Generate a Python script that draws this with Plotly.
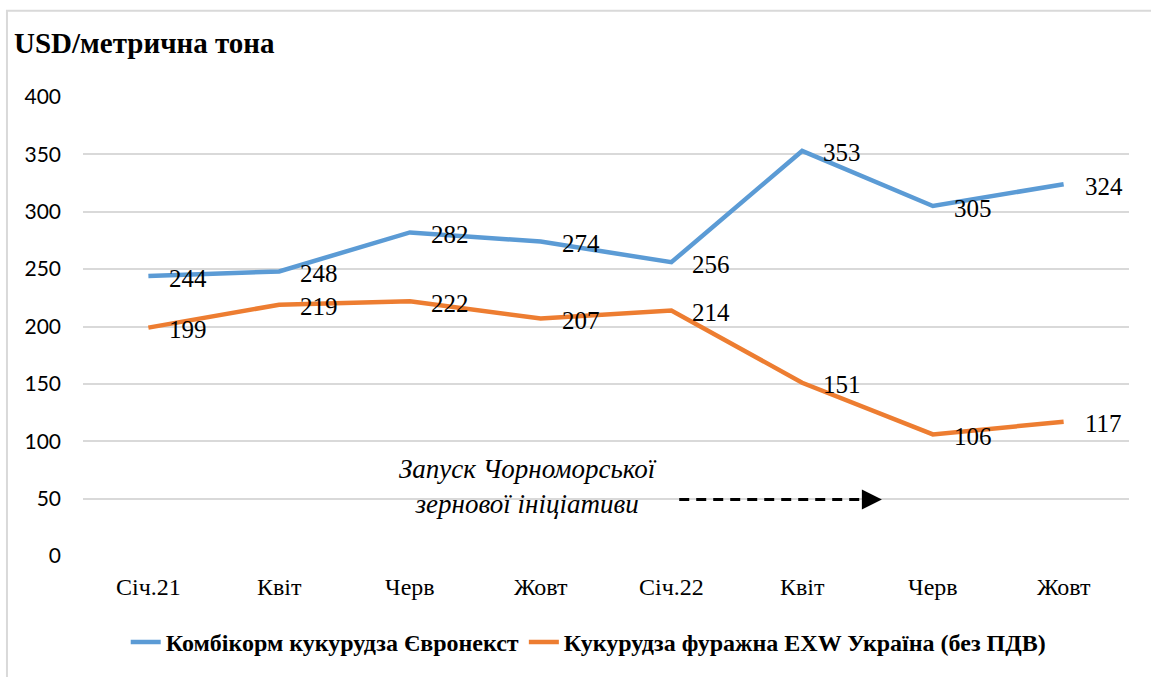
import plotly.graph_objects as go

categories = ["Січ.21", "Квіт", "Черв", "Жовт", "Січ.22", "Квіт", "Черв", "Жовт"]
euronext = [244, 248, 282, 274, 256, 353, 305, 324]
ukraine = [199, 219, 222, 207, 214, 151, 106, 117]
series_names = ["Комбікорм кукурудза Євронекст", "Кукурудза фуражна EXW Україна (без ПДВ)"]
y_ticks = [0, 50, 100, 150, 200, 250, 300, 350, 400]

BLUE = "#5B9BD5"
ORANGE = "#ED7D31"
SERIF = "Liberation Serif"

xs = list(range(len(categories)))

fig = go.Figure()
fig.add_trace(go.Scatter(x=xs, y=euronext, mode="lines", name="<b>" + series_names[0] + "</b>",
                         line=dict(color=BLUE, width=4.5)))
fig.add_trace(go.Scatter(x=xs, y=ukraine, mode="lines", name="<b>" + series_names[1] + "</b>",
                         line=dict(color=ORANGE, width=4.5)))

annotations = []
for vals in (euronext, ukraine):
    for i, v in enumerate(vals):
        annotations.append(dict(x=i, y=v, xref="x", yref="y", text=str(v), showarrow=False,
                                xanchor="left", yanchor="middle", xshift=19, yshift=-2,
                                font=dict(family=SERIF, size=25, color="black")))

annotations.append(dict(x=-0.068, y=1.117, xref="paper", yref="paper", text="<b>USD/метрична тона</b>",
                        showarrow=False, xanchor="left", yanchor="middle",
                        font=dict(family=SERIF, size=29, color="black")))
annotations.append(dict(x=2.9, y=60.5, xref="x", yref="y",
                        text="<i>Запуск Чорноморської<br>зернової ініціативи</i>",
                        showarrow=False, xanchor="center", yanchor="middle", align="center",
                        font=dict(family=SERIF, size=27, color="black")))
annotations.append(dict(x=5.61, y=49.2, xref="x", yref="y", ax=-18, ay=0, text="",
                        showarrow=True, arrowhead=2, arrowsize=1.6, arrowwidth=2.5, arrowcolor="black"))

shapes = [
    dict(type="line", xref="x", yref="y", x0=4.06, x1=5.5, y0=49.2, y1=49.2,
         line=dict(color="black", width=3, dash="10px,7px")),
    dict(type="rect", xref="paper", yref="paper", x0=-0.0727, x1=1.1, y0=1.188, y1=-0.35,
         line=dict(color="#D9D9D9", width=2), layer="below"),
]

fig.update_layout(
    width=1151, height=677,
    margin=dict(l=83, r=22, t=97, b=117),
    paper_bgcolor="white", plot_bgcolor="white",
    showlegend=True,
    legend=dict(orientation="h", x=0.483, xanchor="center", y=-0.188, yanchor="middle",
                font=dict(family=SERIF, size=24, color="black"),
                traceorder="normal"),
    annotations=annotations,
    shapes=shapes,
    xaxis=dict(range=[-0.5, 7.5], tickmode="array", tickvals=xs, ticktext=categories,
               showgrid=False, zeroline=False, showline=False, ticks="",
               tickfont=dict(family=SERIF, size=24, color="black"), ticklabelstandoff=14),
    yaxis=dict(range=[0, 400], tickmode="array", tickvals=y_ticks,
               showgrid=True, gridcolor="#D9D9D9", gridwidth=1.5, zeroline=False,
               showline=False, ticks="",
               tickfont=dict(family="Lato", size=21, color="black"), ticklabelstandoff=21),
)

fig.write_html("out.html", config={"displayModeBar": False},
               post_script="document.body.style.margin='0px';")
